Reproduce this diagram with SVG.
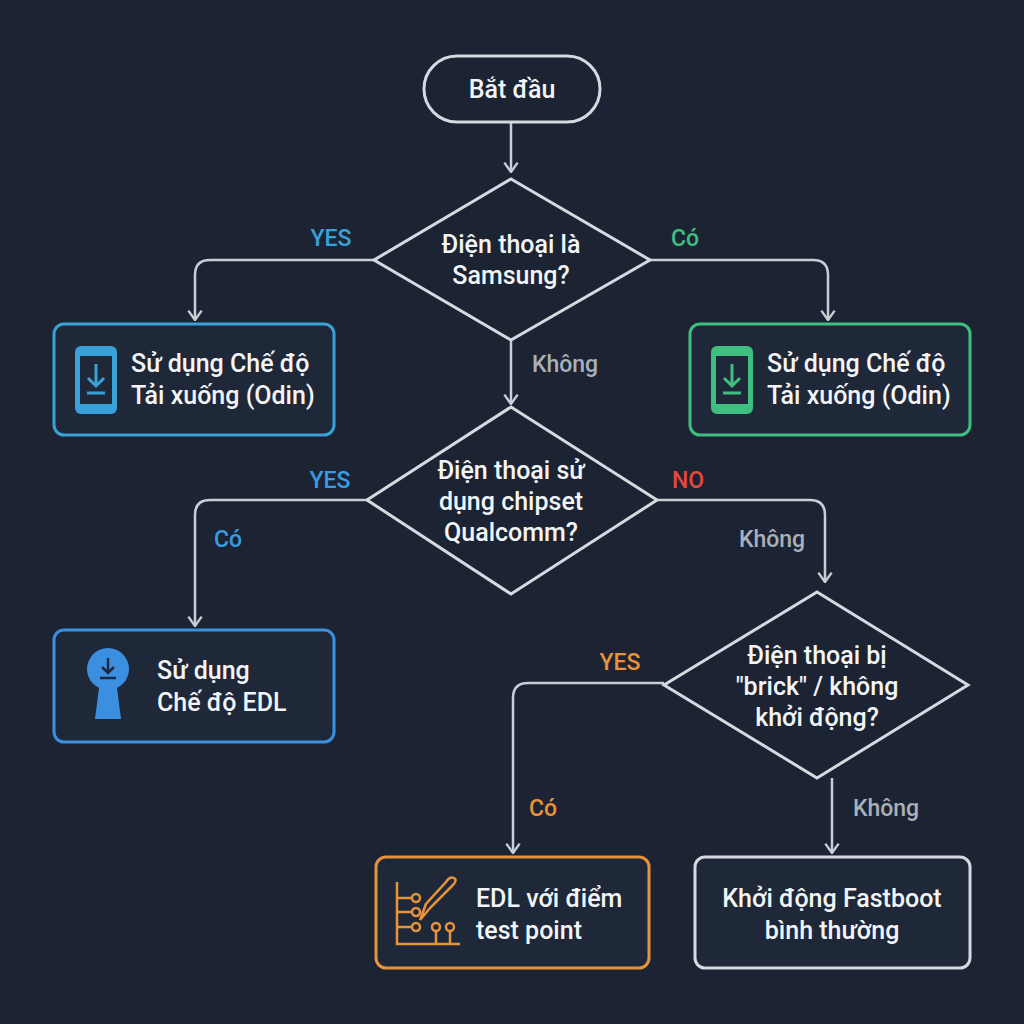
<svg xmlns="http://www.w3.org/2000/svg" width="1024" height="1024" viewBox="0 0 1024 1024">
<defs>
<marker id="ah" viewBox="0 0 12 12" refX="11" refY="6" markerWidth="16" markerHeight="16" orient="auto" markerUnits="userSpaceOnUse">
<path d="M4,1 L11,6 L4,11" fill="none" stroke="#c9ced6" stroke-width="1.8"/>
</marker>
<style>
text{font-family:Roboto,"Noto Sans",sans-serif;font-size:25px;font-weight:500;fill:#f2f4f7}
.c{text-anchor:middle}
.ln{fill:none;stroke:#c9ced6;stroke-width:2.5}
.dia{fill:#1c2433;stroke:#d6dae0;stroke-width:3}
.lb{font-size:23px}
</style>
</defs>
<rect width="1024" height="1024" fill="#1c2433"/>
<g id="connectors">
<path class="ln" d="M511,122 V172" marker-end="url(#ah)"/>
<path class="ln" d="M374,260 H210 Q195,260 195,275 V320" marker-end="url(#ah)"/>
<path class="ln" d="M650,260 H813 Q828,260 828,275 V320" marker-end="url(#ah)"/>
<path class="ln" d="M511,340 V404" marker-end="url(#ah)"/>
<path class="ln" d="M367,500 H210 Q195,500 195,515 V626" marker-end="url(#ah)"/>
<path class="ln" d="M657,500 H810 Q825,500 825,515 V582" marker-end="url(#ah)"/>
<path class="ln" d="M664,683 H528 Q513,683 513,698 V853" marker-end="url(#ah)"/>
<path class="ln" d="M832,778 V853" marker-end="url(#ah)"/>
<text x="331" y="246" class="c lb" style="fill:#3aa0d8">YES</text>
<text x="685" y="246" class="c lb" style="fill:#3fbf7f">Có</text>
<text x="565" y="372" class="c lb" style="fill:#a9b0ba">Không</text>
<text x="330" y="488" class="c lb" style="fill:#3a9be0">YES</text>
<text x="228" y="547" class="c lb" style="fill:#3a9be0">Có</text>
<text x="688" y="488" class="c lb" style="fill:#e2483e">NO</text>
<text x="772" y="547" class="c lb" style="fill:#a9b0ba">Không</text>
<text x="620" y="670" class="c lb" style="fill:#e8923a">YES</text>
<text x="543" y="816" class="c lb" style="fill:#e8923a">Có</text>
<text x="886" y="816" class="c lb" style="fill:#a9b0ba">Không</text>
</g>
<g id="start">
<rect x="424" y="56" width="176" height="66" rx="33" fill="#1c2433" stroke="#d6dae0" stroke-width="3"/>
<text x="512" y="98" class="c">Bắt đầu</text>
</g>
<g id="d1">
<polygon class="dia" points="511,179 650,260 511,340 374,260"/>
<text x="511" y="253" class="c">Điện thoại là</text>
<text x="511" y="284" class="c">Samsung?</text>
</g>
<g id="odinL">
<rect x="54" y="324" width="280" height="111" rx="10" fill="#1e2838" stroke="#3aa0d8" stroke-width="3"/>
<rect x="75" y="346" width="42" height="68" rx="6" fill="#3aa0d8"/>
<rect x="80" y="356" width="32" height="48" fill="#1e2838"/>
<path d="M96,364 V386 M88,378 L96,386 L104,378 M87,393 H105" stroke="#3aa0d8" stroke-width="3" fill="none"/>
<text x="131" y="372">Sử dụng Chế độ</text>
<text x="131" y="404">Tải xuống (Odin)</text>
</g>
<g id="odinR">
<rect x="690" y="324" width="280" height="111" rx="10" fill="#1e2838" stroke="#3fbf7f" stroke-width="3"/>
<rect x="711" y="346" width="42" height="68" rx="6" fill="#3fbf7f"/>
<rect x="716" y="356" width="32" height="48" fill="#1e2838"/>
<path d="M732,364 V386 M724,378 L732,386 L740,378 M723,393 H741" stroke="#3fbf7f" stroke-width="3" fill="none"/>
<text x="767" y="372">Sử dụng Chế độ</text>
<text x="767" y="404">Tải xuống (Odin)</text>
</g>
<g id="d2">
<polygon class="dia" points="511,407 657,500 511,594 367,500"/>
<text x="511" y="479" class="c">Điện thoại sử</text>
<text x="511" y="510" class="c">dụng chipset</text>
<text x="511" y="541" class="c">Qualcomm?</text>
</g>
<g id="edl">
<rect x="54" y="630" width="280" height="112" rx="10" fill="#1e2838" stroke="#3b8fe0" stroke-width="3"/>
<circle cx="108" cy="669" r="21" fill="#3b8fe0"/>
<path d="M100,680 L116,680 L121,719 L95,719 Z" fill="#3b8fe0"/>
<path d="M108,658 V672 M102,667 L108,673 L114,667 M100,678 H116" stroke="#1e2838" stroke-width="2.5" fill="none"/>
<text x="157" y="679">Sử dụng</text>
<text x="157" y="711">Chế độ EDL</text>
</g>
<g id="d3">
<polygon class="dia" points="817,592 968,685 817,778 664,685"/>
<text x="817" y="664" class="c">Điện thoại bị</text>
<text x="817" y="695" class="c">"brick" / không</text>
<text x="817" y="726" class="c">khởi động?</text>
</g>
<g id="testpoint">
<rect x="376" y="857" width="273" height="111" rx="10" fill="#1e2838" stroke="#e8923a" stroke-width="3"/>
<g stroke="#e8923a" stroke-width="2.5" fill="none">
<path d="M397,882 V944 H460"/>
<path d="M397,898 H412 M397,912 H412 M397,927 H412 M436,931 V944 M450,931 V944"/>
<circle cx="416" cy="898" r="4"/><circle cx="416" cy="912" r="4"/><circle cx="416" cy="927" r="4"/>
<circle cx="436" cy="927" r="4"/><circle cx="450" cy="927" r="4"/>
<path d="M420,920 L430,908 L452,886 Q458,880 454,878 Q450,876 446,882 L426,904 Z"/>
</g>
<text x="476" y="907">EDL với điểm</text>
<text x="476" y="939">test point</text>
</g>
<g id="fastboot">
<rect x="695" y="857" width="275" height="111" rx="10" fill="#1e2838" stroke="#d6dae0" stroke-width="3"/>
<text x="832" y="907" class="c">Khởi động Fastboot</text>
<text x="832" y="939" class="c">bình thường</text>
</g>
</svg>
